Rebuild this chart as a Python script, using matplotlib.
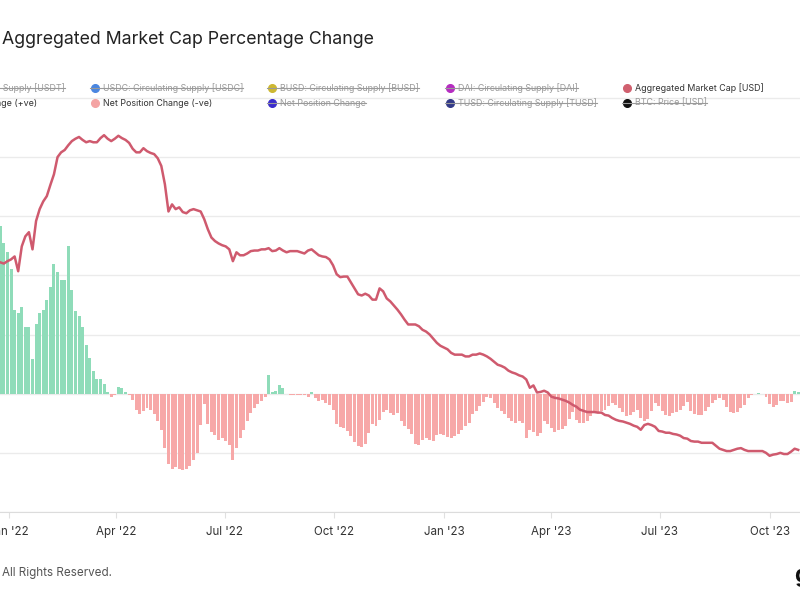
import numpy as np
import pandas as pd
import matplotlib
matplotlib.use('Agg')
import matplotlib.pyplot as plt
import matplotlib.dates as mdates
from matplotlib.lines import Line2D

plt.rcParams['font.family'] = ['Inter', 'DejaVu Sans']

# Data: one point every 3 days
dates = pd.date_range('2021-12-25', periods=224, freq='3D')

net_position = [
    28.3, 25.4, 23.9, 21.0, 14.2, 13.7, 14.6, 11.2, 11.2, 5.8,
    11.7, 13.6, 14.2, 15.9, 18.0, 21.9, 20.5, 19.2, 19.2, 24.9,
    17.6, 13.9, 13.2, 11.2, 8.3, 6.1, 3.9, 2.5, 2.4, 1.7,
    0.3, -0.5, -0.3, 1.2, 1.0, 0.3, -0.3, -1.0, -2.7, -3.4,
    -2.9, -2.4, -2.7, -3.4, -4.6, -6.1, -9.2, -11.9, -12.7, -12.4,
    -12.7, -12.9, -12.7, -12.2, -11.2, -10.0, -5.3, -1.7, -5.1, -6.4,
    -6.9, -7.8, -7.5, -8.0, -8.6, -11.2, -9.2, -7.5, -6.1, -4.7,
    -3.2, -2.4, -1.7, -1.2, -0.5, 3.1, 0.3, 0.5, 1.5, 1.0,
    0.0, -0.2, -0.3, -0.3, -0.2, -0.3, -0.5, 0.3, -0.8, -1.2,
    -1.0, -1.5, -1.9, -2.7, -5.1, -5.6, -5.8, -6.3, -7.1, -8.1,
    -8.8, -9.0, -8.5, -6.6, -5.1, -5.4, -4.4, -3.1, -2.7, -3.2,
    -3.6, -3.2, -4.6, -5.4, -5.9, -6.8, -8.5, -8.6, -7.8, -7.5,
    -7.8, -8.0, -6.9, -6.8, -6.9, -7.3, -7.5, -7.1, -6.8, -6.1,
    -5.4, -4.9, -3.4, -2.9, -2.0, -1.4, -0.5, -0.8, -1.5, -2.4,
    -2.9, -3.4, -4.1, -4.7, -4.9, -4.7, -4.9, -7.5, -6.1, -6.4,
    -7.1, -6.6, -4.6, -5.1, -5.8, -6.4, -6.1, -5.9, -5.4, -4.2,
    -3.1, -4.4, -4.9, -4.9, -4.6, -3.7, -3.2, -3.1, -2.9, -2.7,
    -2.0, -1.5, -1.9, -2.5, -3.1, -3.7, -3.6, -3.1, -2.7, -4.1,
    -4.7, -4.2, -2.9, -1.5, -2.0, -2.9, -3.6, -3.7, -3.2, -3.1,
    -2.7, -2.0, -1.4, -2.9, -3.4, -3.6, -3.6, -2.9, -2.2, -1.5,
    -1.0, -0.7, -1.0, -2.2, -3.1, -3.2, -3.1, -2.4, -1.9, -0.7,
    -0.2, -0.1, 0.2, 0.0, -0.5, -1.7, -2.2, -1.9, -1.2, -1.2,
    -1.5, -1.4, 0.5, 0.3,
]

market_cap_change = [
    22.2, 22.0, 22.4, 22.7, 23.2, 20.7, 24.9, 26.6, 27.3, 24.4,
    29.2, 31.2, 32.5, 33.4, 35.3, 37.1, 40.0, 40.8, 41.2, 42.0,
    42.7, 43.1, 43.4, 42.9, 42.5, 42.7, 42.5, 42.5, 43.2, 43.7,
    43.1, 42.7, 43.1, 43.6, 43.2, 42.9, 42.4, 41.4, 40.8, 40.8,
    41.5, 41.0, 40.7, 40.5, 39.8, 38.5, 35.4, 30.8, 32.0, 31.2,
    31.5, 30.7, 30.5, 31.0, 31.2, 31.0, 30.8, 29.5, 27.8, 26.4,
    25.8, 25.4, 25.1, 24.9, 24.4, 22.4, 23.9, 23.4, 23.4, 23.7,
    24.1, 24.2, 24.2, 24.4, 24.4, 24.6, 24.1, 24.2, 24.6, 24.2,
    23.9, 24.1, 24.1, 24.1, 23.9, 23.7, 24.2, 24.4, 23.9, 23.4,
    23.2, 23.1, 22.7, 21.7, 20.2, 19.7, 19.8, 19.8, 18.8, 17.8,
    16.8, 16.6, 16.9, 16.6, 15.9, 15.9, 17.8, 17.3, 16.1, 15.6,
    14.9, 14.2, 13.4, 12.5, 11.7, 11.7, 11.7, 11.4, 10.8, 10.5,
    10.0, 9.3, 8.6, 8.1, 7.8, 7.5, 6.9, 6.6, 6.6, 6.6,
    6.3, 6.3, 6.6, 6.6, 6.8, 6.6, 6.3, 5.9, 5.4, 4.9,
    4.7, 4.4, 3.9, 3.6, 3.4, 3.1, 2.9, 2.4, 1.0, 1.4,
    0.2, 0.3, 0.5, 0.2, -0.5, -0.7, -0.8, -1.0, -1.2, -1.5,
    -1.9, -2.2, -2.7, -2.9, -3.1, -3.1, -3.1, -3.2, -3.2, -3.6,
    -3.7, -4.1, -4.4, -4.6, -4.7, -4.9, -5.1, -5.4, -5.6, -6.1,
    -5.3, -5.1, -5.3, -5.6, -6.3, -6.4, -6.6, -6.6, -6.8, -6.9,
    -7.1, -7.5, -7.6, -8.0, -8.1, -8.1, -8.3, -8.3, -8.3, -8.3,
    -8.8, -9.3, -9.5, -9.7, -9.7, -9.5, -9.3, -9.2, -9.5, -9.7,
    -9.7, -9.7, -9.7, -9.7, -10.0, -10.5, -10.3, -10.2, -10.0, -10.2,
    -10.2, -9.8, -9.3, -9.5,
]

# legend entries: (label, colour, struck out)
legend_row1 = [
    ('USDT: Circulating Supply [USDT]', '#26a17b', True),
    ('USDC: Circulating Supply [USDC]', '#4a86e0', True),
    ('BUSD: Circulating Supply [BUSD]', '#cdb832', True),
    ('DAI: Circulating Supply [DAI]', '#b52cc0', True),
    ('Aggregated Market Cap [USD]', '#d0606f', False),
]
legend_row2 = [
    ('Net Position Change (+ve)', '#8fdcb9', False),
    ('Net Position Change (-ve)', '#f4a3a3', False),
    ('Net Position Change', '#3a2ccc', True),
    ('TUSD: Circulating Supply [TUSD]', '#333a88', True),
    ('BTC: Price [USD]', '#111111', True),
]

W, H = 800, 600
fig = plt.figure(figsize=(8, 6), dpi=100)
ax = fig.add_axes([0, 88 / H, 1, 420 / H])

bar_colors = ['#8fdcb9' if v >= 0 else '#f7a8a8' for v in net_position]
ax.bar(dates, net_position, width=2.5, color=bar_colors, linewidth=0, zorder=2)
ax.plot(dates, market_cap_change, color='#cf5a6e', lw=1.8, zorder=3)

ax.set_ylim(-20, 51)
ax.set_yticks(np.arange(-20, 51, 10))
ax.grid(axis='y', color='#ebebeb', lw=1, zorder=0)
ax.set_axisbelow(True)
ax.tick_params(axis='y', left=False, labelleft=False)
ax.set_xlim(pd.Timestamp('2021-12-24 18:00'), pd.Timestamp('2023-10-26 12:00'))
ax.xaxis.set_major_locator(mdates.MonthLocator(bymonth=[1, 4, 7, 10]))
ax.xaxis.set_major_formatter(mdates.DateFormatter("%b '%y"))
ax.tick_params(axis='x', length=4, color='#e0e0e0', labelsize=8.3,
               labelcolor='#333333', pad=6)
for s in ['top', 'left', 'right']:
    ax.spines[s].set_visible(False)
ax.spines['bottom'].set_color('#dcdcdc')

# title and footer
fig.text(2 / W, 1 - 39 / H, 'Aggregated Market Cap Percentage Change',
         fontsize=12.75, color='#222222', va='center', ha='left')
fig.text(112 / W, 1 - 573 / H, '\u00a9 2023 Glassnode.  All Rights Reserved.',
         fontsize=8.4, color='#555555', va='center', ha='right')
fig.text(794 / W, 1 - 576 / H, 'g', fontsize=17, fontweight='bold',
         color='#111111', va='center', ha='left')

# legend drawn by hand
col_x = [-82, 95, 272, 450, 627]
struck = []
for row, y_px in [(legend_row1, 88), (legend_row2, 103)]:
    for (label, col, off), mx in zip(row, col_x):
        yf = 1 - y_px / H
        fig.add_artist(Line2D([mx / W], [yf], marker='o', markersize=5.5,
                              color=col, lw=0, transform=fig.transFigure))
        t = fig.text((mx + 8) / W, yf, label, fontsize=6.4, va='center',
                     ha='left', color='#9a9a9a' if off else '#333333')
        if off:
            struck.append((t, mx, yf))

fig.canvas.draw()
r = fig.canvas.get_renderer()
for t, mx, yf in struck:
    bb = t.get_window_extent(r)
    fig.add_artist(Line2D([(mx - 5) / W, bb.x1 / W], [yf, yf], color='#9a9a9a',
                          lw=0.8, transform=fig.transFigure))

fig.savefig('out.png', dpi=100)
